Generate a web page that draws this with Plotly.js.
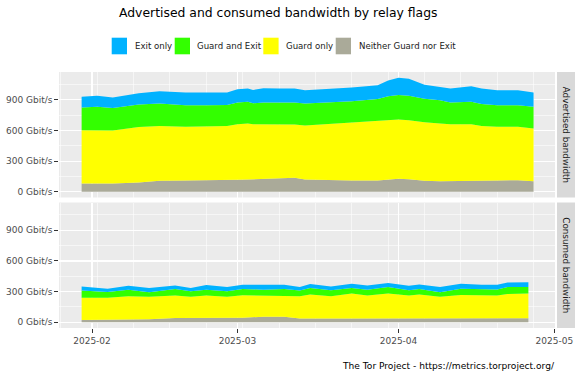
<!DOCTYPE html>
<html>
<head>
<meta charset="utf-8">
<script src="https://cdn.plot.ly/plotly-3.0.1.min.js"></script>
<style>html,body{margin:0;padding:0;background:#fff;}#chart{width:578px;height:376px;}</style>
</head>
<body>
<div id="chart"></div>
<script>
// ---------- DATA (Gbit/s) ----------
const seriesNames = ['Neither Guard nor Exit', 'Guard only', 'Guard and Exit', 'Exit only'];
const legendOrder = ['Exit only', 'Guard and Exit', 'Guard only', 'Neither Guard nor Exit'];
const panelNames = ['Advertised bandwidth', 'Consumed bandwidth'];

const advDates = ['2025-01-30','2025-02-02','2025-02-05','2025-02-10','2025-02-14','2025-02-19','2025-02-23','2025-02-27',
  '2025-03-01','2025-03-03','2025-03-04','2025-03-06','2025-03-09','2025-03-12','2025-03-14','2025-03-18','2025-03-23',
  '2025-03-28','2025-03-30','2025-04-01','2025-04-03','2025-04-06','2025-04-09','2025-04-11','2025-04-15','2025-04-17',
  '2025-04-20','2025-04-24','2025-04-27'];
const advNeither   = [80, 82, 81, 92, 108, 111, 111, 113, 117, 120, 122, 130, 137, 137, 120, 114, 111, 111, 117, 127, 122, 108, 104, 104, 110, 111, 111, 113, 104];
const advGuardOnly = [523, 521, 519, 541, 537, 525, 531, 532, 545, 548, 540, 532, 525, 522, 528, 548, 567, 583, 584, 580, 579, 572, 564, 558, 552, 534, 525, 523, 515];
const advGuardExit = [222, 228, 221, 222, 219, 212, 206, 205, 211, 212, 204, 211, 211, 214, 216, 211, 209, 213, 235, 239, 239, 230, 229, 211, 218, 215, 212, 212, 212];
const advExitOnly  = [104, 108, 101, 110, 120, 123, 123, 121, 131, 130, 130, 140, 137, 137, 130, 131, 133, 136, 154, 169, 165, 138, 130, 137, 153, 150, 146, 146, 140];

const conDates = ['2025-01-30','2025-02-04','2025-02-08','2025-02-12','2025-02-17','2025-02-20','2025-02-23','2025-02-27',
  '2025-03-02','2025-03-06','2025-03-10','2025-03-13','2025-03-15','2025-03-19','2025-03-23','2025-03-26','2025-03-30',
  '2025-04-03','2025-04-05','2025-04-09','2025-04-13','2025-04-17','2025-04-20','2025-04-22','2025-04-26'];
const conNeither   = [22, 22, 22, 29, 42, 42, 42, 42, 45, 55, 55, 36, 38, 38, 38, 38, 38, 36, 36, 36, 38, 38, 38, 39, 39];
const conGuardOnly = [217, 217, 233, 220, 219, 207, 219, 207, 219, 206, 209, 219, 233, 217, 243, 223, 243, 225, 235, 213, 230, 223, 223, 238, 242];
const conGuardExit = [71, 58, 64, 45, 65, 54, 58, 54, 62, 58, 62, 55, 64, 58, 54, 58, 64, 52, 55, 45, 61, 65, 61, 68, 64];
const conExitOnly  = [41, 32, 39, 42, 35, 33, 46, 42, 42, 46, 42, 35, 39, 38, 43, 42, 39, 45, 45, 51, 49, 42, 46, 45, 48];

const yTickVals = [0, 300, 600, 900];
const yTickText = ['0 Gbit/s', '300 Gbit/s', '600 Gbit/s', '900 Gbit/s'];
const xTickVals = ['2025-02-01', '2025-03-01', '2025-04-01', '2025-05-01'];
const xTickText = ['2025-02', '2025-03', '2025-04', '2025-05'];

// ---------- STYLE ----------
const colors = {
  'Exit only': '#00b2ff',
  'Guard and Exit': '#33ff00',
  'Guard only': '#ffff00',
  'Neither Guard nor Exit': '#aaaa99'
};
const W = 578, H = 376;
const FONT = 'DejaVu Sans, sans-serif';
const px = v => v / W;
const py = v => 1 - v / H;

const panelX = [59, 555];
const panelsY = [[72, 197.5], [202.5, 328]];

// weekly minor grid (Sundays)
const minorX = [];
for (let t = Date.UTC(2025, 0, 26); t <= Date.UTC(2025, 3, 27); t += 7 * 86400000) {
  minorX.push(new Date(t).toISOString().slice(0, 10));
}

const advVals = [advNeither, advGuardOnly, advGuardExit, advExitOnly];
const conVals = [conNeither, conGuardOnly, conGuardExit, conExitOnly];

const traces = [];
[[advDates, advVals, 'x', 'y', 'adv'], [conDates, conVals, 'x2', 'y2', 'con']].forEach(([dates, vals, xa, ya, grp]) => {
  seriesNames.forEach((name, i) => {
    traces.push({
      type: 'scatter', mode: 'lines', name: name,
      x: dates, y: vals[i],
      stackgroup: grp, xaxis: xa, yaxis: ya,
      line: {width: 0, color: colors[name]},
      fillcolor: colors[name],
      showlegend: false, hoverinfo: 'skip'
    });
  });
});

const xRange = ['2025-01-25 15:30', '2025-05-01 03:00'];
const yRange = [-55.8, 1172.2];

function xAxis(anchor, showLabels) {
  return {
    type: 'date', anchor: anchor,
    domain: [px(panelX[0]), px(panelX[1])],
    range: xRange, tickmode: 'array', tickvals: xTickVals, ticktext: xTickText,
    showticklabels: showLabels, ticks: showLabels ? 'outside' : '',
    ticklen: 3.7, tickwidth: 1, tickcolor: '#333333',
    tickfont: {family: FONT, size: 9, color: '#4d4d4d'},
    showgrid: true, gridcolor: '#ffffff', gridwidth: 1.07,
    minor: {tickmode: 'array', tickvals: minorX, showgrid: true, gridcolor: '#ffffff', gridwidth: 0.53, ticks: ''},
    zeroline: false, showline: false, fixedrange: true
  };
}
function yAxis(anchor, dom) {
  return {
    anchor: anchor,
    domain: [py(dom[1]), py(dom[0])],
    range: yRange, tickmode: 'array', tickvals: yTickVals, ticktext: yTickText,
    ticks: 'outside', ticklen: 3.7, tickwidth: 1, tickcolor: '#333333',
    tickfont: {family: FONT, size: 9, color: '#4d4d4d'},
    showgrid: true, gridcolor: '#ffffff', gridwidth: 1.07,
    minor: {tickmode: 'array', tickvals: [150, 450, 750, 1050], showgrid: true, gridcolor: '#ffffff', gridwidth: 0.53, ticks: ''},
    zeroline: false, showline: false, fixedrange: true
  };
}

const shapes = [];
const annotations = [];

// strips
panelsY.forEach((dom, i) => {
  shapes.push({type: 'rect', xref: 'paper', yref: 'paper', x0: px(557), x1: px(575), y0: py(dom[1]), y1: py(dom[0]),
    fillcolor: '#d9d9d9', line: {width: 0}, layer: 'below'});
  annotations.push({xref: 'paper', yref: 'paper', x: px(566), y: py((dom[0] + dom[1]) / 2),
    text: panelNames[i], showarrow: false, textangle: 90, xanchor: 'center', yanchor: 'middle',
    font: {family: FONT, size: 8.8, color: '#1a1a1a'}});
});

// legend (manual, ggplot style)
const legendKeys = [[111.7, 132.7], [174.7, 195.3], [263.3, 284.3], [335.7, 357]];
legendOrder.forEach((name, i) => {
  const [kx, tx] = legendKeys[i];
  shapes.push({type: 'rect', xref: 'paper', yref: 'paper', x0: px(kx), x1: px(kx + 15.3), y0: py(54.3), y1: py(37.7),
    fillcolor: colors[name], line: {width: 0}});
  annotations.push({xref: 'paper', yref: 'paper', x: px(tx), y: py(46), text: name, showarrow: false,
    xanchor: 'left', yanchor: 'middle', font: {family: FONT, size: 8.6, color: '#1a1a1a'}});
});

// title
annotations.push({xref: 'paper', yref: 'paper', x: px(278.5), y: py(13), text: 'Advertised and consumed bandwidth by relay flags',
  showarrow: false, xanchor: 'center', yanchor: 'middle', font: {family: FONT, size: 12.4, color: '#000000'}});
// caption
annotations.push({xref: 'paper', yref: 'paper', x: px(556.7), y: py(365.7), text: 'The Tor Project - https://metrics.torproject.org/',
  showarrow: false, xanchor: 'right', yanchor: 'middle', font: {family: FONT, size: 9.1, color: '#000000'}});

const layout = {
  width: W, height: H,
  margin: {l: 0, r: 0, t: 0, b: 0, pad: 0},
  paper_bgcolor: '#ffffff', plot_bgcolor: '#ebebeb',
  showlegend: false,
  xaxis: xAxis('y', false),
  yaxis: yAxis('x', panelsY[0]),
  xaxis2: xAxis('y2', true),
  yaxis2: yAxis('x2', panelsY[1]),
  shapes: shapes, annotations: annotations,
  font: {family: FONT}
};

Plotly.newPlot('chart', traces, layout, {staticPlot: true, displayModeBar: false});
</script>
</body>
</html>
